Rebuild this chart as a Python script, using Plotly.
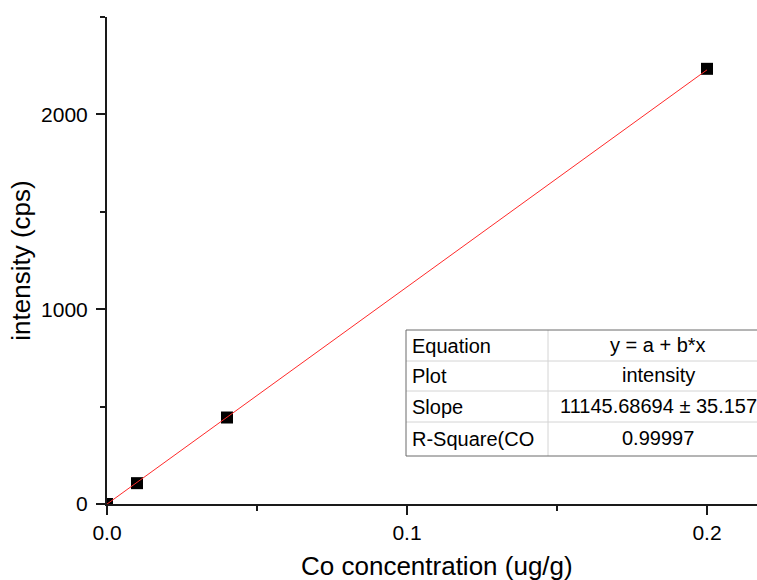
import numpy as np
import plotly.graph_objects as go

# Calibration standards
concentration = [0.0, 0.01, 0.04, 0.2]          # ug/g
intensity = [0.0, 107.0, 444.0, 2234.0]          # cps

# Linear fit results (y = a + b*x)
slope = 11145.68694
slope_err = 35.157
r_square = 0.99997
intercept = float(np.mean(intensity) - slope * np.mean(concentration))

x_ticks = [0.0, 0.1, 0.2]
x_tick_labels = ["0.0", "0.1", "0.2"]
x_minor = [0.05, 0.15]
y_ticks = [0, 1000, 2000]
y_tick_labels = ["0", "1000", "2000"]
y_minor = [500, 1500, 2500]

table_rows = [
    ("Equation", "y = a + b*x"),
    ("Plot", "intensity"),
    ("Slope", f"{slope:.5f} \u00b1 {slope_err}"),
    ("R-Square(CO", f"{r_square}"),
]

W, H = 757, 580
L, T, B = 107, 17, 76
plot_w = W - L
plot_h = H - T - B
FONT = "Liberation Sans, Arial, sans-serif"
AX = "#1a1a1a"


def px(x):
    return (x - L) / plot_w


def py(y):
    return (T + plot_h - y) / plot_h


fit_x = [concentration[0], concentration[-1]]
fit_y = [intercept + slope * v for v in fit_x]

fig = go.Figure()
fig.add_trace(go.Scatter(
    x=concentration, y=intensity, mode="markers",
    marker=dict(symbol="square", size=12, color="black", line=dict(width=0)),
    showlegend=False,
))
fig.add_trace(go.Scatter(
    x=fit_x, y=fit_y, mode="lines",
    line=dict(color="#ff2a2a", width=1), showlegend=False,
))

# Fit-results table
tbl_left, tbl_right, col_div = 406, 770, 548
row_edges = [330, 361, 391, 422, 456]
shapes = []
for yb in row_edges[1:-1]:
    shapes.append(dict(type="line", xref="paper", yref="paper",
                       x0=px(tbl_left), x1=px(tbl_right), y0=py(yb), y1=py(yb),
                       line=dict(color="#d4d4d4", width=1)))
shapes.append(dict(type="line", xref="paper", yref="paper",
                   x0=px(col_div), x1=px(col_div), y0=py(row_edges[0]), y1=py(row_edges[-1]),
                   line=dict(color="#d4d4d4", width=1)))
shapes.append(dict(type="rect", xref="paper", yref="paper",
                   x0=px(tbl_left), x1=px(tbl_right), y0=py(row_edges[-1]), y1=py(row_edges[0]),
                   line=dict(color="#6a6a6a", width=1), fillcolor="rgba(0,0,0,0)"))

annotations = []
for i, (k, v) in enumerate(table_rows):
    yc = (row_edges[i] + row_edges[i + 1]) / 2
    annotations.append(dict(xref="paper", yref="paper", x=px(410), y=py(yc),
                            text=k, showarrow=False, xanchor="left", yanchor="middle",
                            font=dict(family=FONT, size=20, color="black")))
    annotations.append(dict(xref="paper", yref="paper", x=px(658), y=py(yc - 1),
                            text=v, showarrow=False, xanchor="center", yanchor="middle",
                            font=dict(family=FONT, size=20, color="black")))

annotations.append(dict(xref="paper", yref="paper", x=px(437), y=py(566),
                        text="Co concentration (ug/g)", showarrow=False,
                        xanchor="center", yanchor="middle",
                        font=dict(family=FONT, size=26, color="black")))

fig.update_layout(
    width=W, height=H,
    margin=dict(l=L, r=0, t=T, b=B, pad=0),
    paper_bgcolor="white", plot_bgcolor="white",
    font=dict(family=FONT, color="black"),
    shapes=shapes, annotations=annotations,
    xaxis=dict(
        range=[0, plot_w / 3000], showgrid=False, zeroline=False,
        showline=True, linecolor=AX, linewidth=2,
        tickmode="array", tickvals=x_ticks, ticktext=x_tick_labels,
        ticks="outside", ticklen=9, tickwidth=2, tickcolor=AX,
        tickfont=dict(family=FONT, size=21, color="black"),
        minor=dict(tickmode="array", tickvals=x_minor, ticks="outside",
                   ticklen=5, tickwidth=2, tickcolor=AX),
    ),
    yaxis=dict(
        range=[0, 2500], showgrid=False, zeroline=False,
        showline=True, linecolor=AX, linewidth=2,
        tickmode="array", tickvals=y_ticks, ticktext=y_tick_labels,
        ticks="outside", ticklen=9, tickwidth=2, tickcolor=AX,
        ticklabelstandoff=4,
        tickfont=dict(family=FONT, size=21, color="black"),
        minor=dict(tickmode="array", tickvals=y_minor, ticks="outside",
                   ticklen=5, tickwidth=2, tickcolor=AX),
        title=dict(text="intensity (cps)", font=dict(family=FONT, size=26, color="black"),
                   standoff=3),
    ),
)

fig.write_html("out.html")
